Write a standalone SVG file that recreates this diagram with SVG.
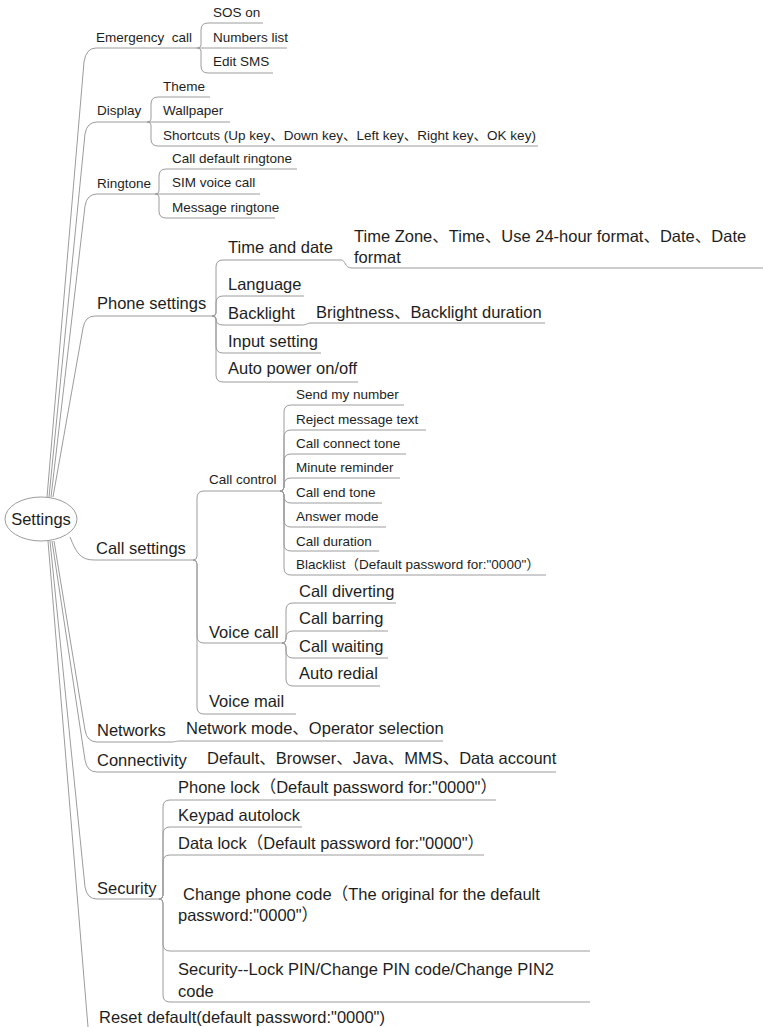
<svg xmlns="http://www.w3.org/2000/svg" width="763" height="1027" viewBox="0 0 763 1027">
<style>
text{font-family:"Liberation Sans","Noto Sans CJK SC",Arial,sans-serif;fill:#1e1e1e}
.s{font-size:13.5px}
.l{font-size:16.5px}
.c path{fill:none;stroke:#9c9c9c;stroke-width:1}
</style>
<rect width="763" height="1027" fill="#ffffff"/>
<g id="connectors" class="c">
<!-- root branches -->
<path d="M47,497 L84,62 Q86,48 96,48 L197,48"/>
<path d="M49,497 L85,134 Q87,122 97,122 L147,122"/>
<path d="M51,497 L85,206 Q87,194 97,194 L155,194"/>
<path d="M53,497 L83,328 Q85,316 95,316 L212,316"/>
<path d="M70,537 C76,552 80,560 94,560 L193,560"/>
<path d="M54,541 L85,730 Q87,742 97,742 L171,742 C176,742 175,741 180,741 L443,741"/>
<path d="M52,541 L85,760 Q87,772 97,772 L556,772"/>
<path d="M50,541 L85,887 Q87,899 97,899 L159,899"/>
<path d="M48,541 L88,1027"/>
<!-- Emergency call -->
<path d="M197,48 Q201,48 201,45 L201,30 Q201,23 208,23 L263,23"/>
<path d="M197,48 L287,48"/>
<path d="M197,48 Q201,48 201,51 L201,66 Q201,73 208,73 L273,73"/>
<!-- Display -->
<path d="M147,122 Q151,122 151,119 L151,104 Q151,97 158,97 L210,97"/>
<path d="M147,122 L230,122"/>
<path d="M147,122 Q151,122 151,125 L151,139 Q151,146 158,146 L538,146"/>
<!-- Ringtone -->
<path d="M155,194 Q159,194 159,191 L159,176 Q159,169 166,169 L297,169"/>
<path d="M155,194 L260,194"/>
<path d="M155,194 Q159,194 159,197 L159,211 Q159,218 166,218 L275,218"/>
<!-- Phone settings -->
<path d="M212,316 Q216,316 216,313 L216,267 Q216,260 223,260 L341,260 C346,260 344,268 352,268 L763,268"/>
<path d="M212,316 Q216,316 216,313 L216,303 Q216,296 223,296 L304,296"/>
<path d="M212,316 Q216,316 216,319 Q216,325 223,325 L302,325 C307,325 306,323 312,323 L545,323"/>
<path d="M212,316 Q216,316 216,319 L216,346 Q216,353 223,353 L321,353"/>
<path d="M212,316 Q216,316 216,319 L216,375 Q216,382 223,382 L358,382"/>
<!-- Call settings -->
<path d="M193,560 Q197,560 197,556 L197,498 Q197,491 204,491 L280,491"/>
<path d="M193,560 Q197,560 197,564 L197,636 Q197,643 204,643 L282,643"/>
<path d="M193,560 Q197,560 197,564 L197,707 Q197,714 204,714 L296,714"/>
<!-- Call control -->
<path d="M280,491 Q284,491 284,487 L284,412 Q284,405 291,405 L404,405"/>
<path d="M280,491 Q284,491 284,487 L284,437 Q284,430 291,430 L426,430"/>
<path d="M280,491 Q284,491 284,487 L284,461 Q284,454 291,454 L406,454"/>
<path d="M280,491 Q284,491 284,487 L284,485 Q284,478 291,478 L400,478"/>
<path d="M280,491 Q284,491 284,495 L284,496 Q284,503 291,503 L382,503"/>
<path d="M280,491 Q284,491 284,495 L284,520 Q284,527 291,527 L386,527"/>
<path d="M280,491 Q284,491 284,495 L284,544 Q284,551 291,551 L379,551"/>
<path d="M280,491 Q284,491 284,495 L284,568 Q284,575 291,575 L546,575"/>
<!-- Voice call -->
<path d="M282,643 Q286,643 286,639 L286,610 Q286,603 293,603 L396,603"/>
<path d="M282,643 Q286,643 286,639 L286,638 Q286,631 293,631 L388,631"/>
<path d="M282,643 Q286,643 286,647 L286,651 Q286,658 293,658 L388,658"/>
<path d="M282,643 Q286,643 286,647 L286,679 Q286,686 293,686 L380,686"/>
<!-- Security -->
<path d="M159,899 Q163,899 163,895 L163,807 Q163,800 170,800 L496,800"/>
<path d="M159,899 Q163,899 163,895 L163,834 Q163,827 170,827 L302,827"/>
<path d="M159,899 Q163,899 163,895 L163,862 Q163,855 170,855 L484,855"/>
<path d="M159,899 Q163,899 163,903 L163,944 Q163,951 170,951 L590,951"/>
<path d="M159,899 Q163,899 163,903 L163,995 Q163,1002 170,1002 L590,1002"/>
</g>
<g id="settings">
<ellipse cx="41" cy="519" rx="36" ry="22" fill="#ffffff" stroke="#9c9c9c" stroke-width="1"/>
<text class="l" x="41" y="525" text-anchor="middle">Settings</text>
</g>
<g id="emergency-call"><text class="s" x="96" y="42" xml:space="preserve">Emergency  call</text></g>
<g id="sos-on"><text class="s" x="213" y="17">SOS on</text></g>
<g id="numbers-list"><text class="s" x="213" y="42">Numbers list</text></g>
<g id="edit-sms"><text class="s" x="213" y="66">Edit SMS</text></g>
<g id="display"><text class="s" x="97" y="115">Display</text></g>
<g id="theme"><text class="s" x="163" y="91">Theme</text></g>
<g id="wallpaper"><text class="s" x="163" y="115">Wallpaper</text></g>
<g id="shortcuts"><text class="s" x="163" y="140">Shortcuts (Up key、Down key、Left key、Right key、OK key)</text></g>
<g id="ringtone"><text class="s" x="97" y="188">Ringtone</text></g>
<g id="call-default-ringtone"><text class="s" x="172" y="163">Call default ringtone</text></g>
<g id="sim-voice-call"><text class="s" x="172" y="187">SIM voice call</text></g>
<g id="message-ringtone"><text class="s" x="172" y="212">Message ringtone</text></g>
<g id="phone-settings"><text class="l" x="97" y="309">Phone settings</text></g>
<g id="time-and-date"><text class="l" x="228" y="253">Time and date</text></g>
<g id="time-zone"><text class="l" x="354" y="242">Time Zone、Time、Use 24-hour format、Date、Date</text><text class="l" x="354" y="263">format</text></g>
<g id="language"><text class="l" x="228" y="290">Language</text></g>
<g id="backlight"><text class="l" x="228" y="319">Backlight</text></g>
<g id="brightness"><text class="l" x="316" y="318">Brightness、Backlight duration</text></g>
<g id="input-setting"><text class="l" x="228" y="347">Input setting</text></g>
<g id="auto-power"><text class="l" x="228" y="374">Auto power on/off</text></g>
<g id="call-settings"><text class="l" x="96" y="554">Call settings</text></g>
<g id="call-control"><text class="s" x="209" y="484">Call control</text></g>
<g id="send-my-number"><text class="s" x="296" y="399">Send my number</text></g>
<g id="reject-message-text"><text class="s" x="296" y="424">Reject message text</text></g>
<g id="call-connect-tone"><text class="s" x="296" y="448">Call connect tone</text></g>
<g id="minute-reminder"><text class="s" x="296" y="472">Minute reminder</text></g>
<g id="call-end-tone"><text class="s" x="296" y="497">Call end tone</text></g>
<g id="answer-mode"><text class="s" x="296" y="521">Answer mode</text></g>
<g id="call-duration"><text class="s" x="296" y="546">Call duration</text></g>
<g id="blacklist"><text class="s" x="296" y="569">Blacklist（Default password for:"0000"）</text></g>
<g id="voice-call"><text class="l" x="209" y="638">Voice call</text></g>
<g id="call-diverting"><text class="l" x="299" y="597">Call diverting</text></g>
<g id="call-barring"><text class="l" x="299" y="624">Call barring</text></g>
<g id="call-waiting"><text class="l" x="299" y="652">Call waiting</text></g>
<g id="auto-redial"><text class="l" x="299" y="679">Auto redial</text></g>
<g id="voice-mail"><text class="l" x="209" y="707">Voice mail</text></g>
<g id="networks"><text class="l" x="97" y="736">Networks</text></g>
<g id="network-mode"><text class="l" x="186" y="734">Network mode、Operator selection</text></g>
<g id="connectivity"><text class="l" x="97" y="766">Connectivity</text></g>
<g id="connectivity-items"><text class="l" x="207" y="764">Default、Browser、Java、MMS、Data account</text></g>
<g id="security"><text class="l" x="97" y="894">Security</text></g>
<g id="phone-lock"><text class="l" x="178" y="793">Phone lock（Default password for:"0000"）</text></g>
<g id="keypad-autolock"><text class="l" x="178" y="821">Keypad autolock</text></g>
<g id="data-lock"><text class="l" x="178" y="849">Data lock（Default password for:"0000"）</text></g>
<g id="change-phone-code"><text class="l" x="183" y="900">Change phone code（The original for the default</text><text class="l" x="178" y="921">password:"0000"）</text></g>
<g id="security-lock-pin"><text class="l" x="178" y="975">Security--Lock PIN/Change PIN code/Change PIN2</text><text class="l" x="178" y="997">code</text></g>
<g id="reset-default"><text class="l" x="99" y="1023">Reset default(default password:"0000")</text></g>
</svg>
